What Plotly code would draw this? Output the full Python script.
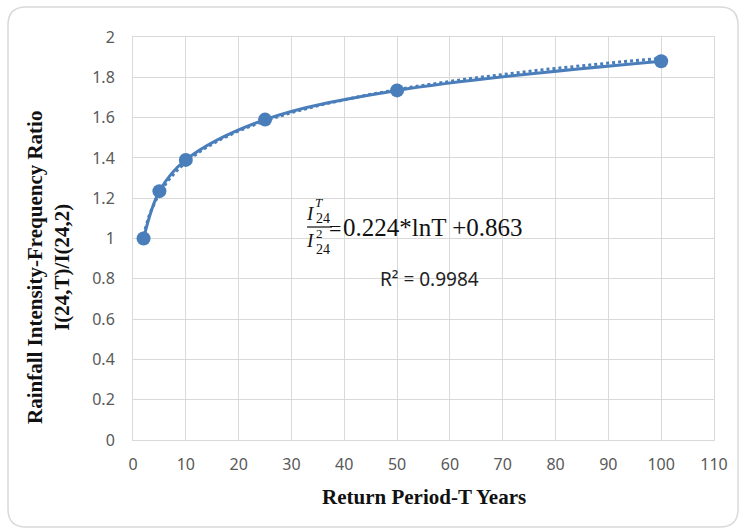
import numpy as np
import plotly.graph_objects as go

# Data
return_period = [2, 5, 10, 25, 50, 100]
ratio = [1.0, 1.235, 1.39, 1.59, 1.735, 1.88]

# Logarithmic trendline coefficients shown on the chart
TREND_A = 0.224
TREND_B = 0.863
R2_TEXT = "R² = 0.9984"

x_ticks = list(range(0, 111, 10))
y_ticks = [0, 0.2, 0.4, 0.6, 0.8, 1, 1.2, 1.4, 1.6, 1.8, 2]
y_tick_text = ["0", "0.2", "0.4", "0.6", "0.8", "1", "1.2", "1.4", "1.6", "1.8", "2"]

BLUE = "#4a7ebb"
W, H = 741, 531
L, R, T, B = 133, 27, 37, 91
PW, PH = W - L - R, H - T - B


def px(x):
    return (x - L) / PW


def py(y):
    return (H - B - y) / PH


trend_x = np.linspace(min(return_period), max(return_period), 300)
trend_y = TREND_A * np.log(trend_x) + TREND_B

fig = go.Figure()
fig.add_trace(go.Scatter(x=trend_x, y=trend_y, mode="lines",
                         line=dict(color=BLUE, width=3, dash="dot"),
                         hoverinfo="skip", showlegend=False))
fig.add_trace(go.Scatter(x=return_period, y=ratio, mode="lines+markers",
                         line=dict(color=BLUE, width=3, shape="spline", smoothing=1),
                         marker=dict(color=BLUE, size=14),
                         showlegend=False, cliponaxis=False))

# rounded outer border
x0, y0, x1, y1, r = 8, 7, 738, 527, 18
path = (f"M {px(x0+r)},{py(y0)} L {px(x1-r)},{py(y0)} "
        f"Q {px(x1)},{py(y0)} {px(x1)},{py(y0+r)} L {px(x1)},{py(y1-r)} "
        f"Q {px(x1)},{py(y1)} {px(x1-r)},{py(y1)} L {px(x0+r)},{py(y1)} "
        f"Q {px(x0)},{py(y1)} {px(x0)},{py(y1-r)} L {px(x0)},{py(y0+r)} "
        f"Q {px(x0)},{py(y0)} {px(x0+r)},{py(y0)} Z")
shapes = [dict(type="path", path=path, xref="paper", yref="paper",
               line=dict(color="#d9d9d9", width=1.5), layer="below")]
# fraction bar
shapes.append(dict(type="line", xref="paper", yref="paper",
                   x0=px(307), x1=px(332), y0=py(227), y1=py(227),
                   line=dict(color="#222", width=1.3)))

serif = "Liberation Serif"
ann = []


def add(text, x, y, size, family=serif, color="#111", xanchor="center", **kw):
    ann.append(dict(text=text, x=px(x), y=py(y), xref="paper", yref="paper",
                    showarrow=False, xanchor=xanchor, yanchor="middle",
                    font=dict(family=family, size=size, color=color), **kw))


# fraction I_24^T / I_24^2
add("<i>I</i>", 310, 213, 19)
add("<i>T</i>", 319, 202, 13)
add("24", 323, 218, 14)
add("<i>I</i>", 310, 240, 19)
add("2", 319, 233, 13)
add("24", 323, 249, 14)
add("=", 335, 228, 22)
add("0.224*lnT +0.863", 341, 227, 25, xanchor="left")
add(R2_TEXT, 429, 279, 19, family="Noto Sans", color="#222")
# axis titles
add("<b>Return Period-T Years</b>", 424, 497, 21)
add("<b>Rainfall Intensity-Frequency Ratio</b><br><b>I(24,T)/I(24,2)</b>",
    48, 268, 21, textangle=-90)

fig.update_layout(
    width=W, height=H,
    margin=dict(l=L, r=R, t=T, b=B),
    paper_bgcolor="white", plot_bgcolor="white",
    shapes=shapes, annotations=ann,
    xaxis=dict(range=[0, 110], tickvals=x_ticks, showgrid=True,
               gridcolor="#d9d9d9", gridwidth=1, zeroline=False,
               showline=True, mirror=True, linecolor="#d9d9d9",
               ticks="", ticklabelstandoff=10,
               tickfont=dict(family="Noto Sans", size=16, color="#595959")),
    yaxis=dict(range=[0, 2], tickvals=y_ticks, ticktext=y_tick_text,
               showgrid=True, gridcolor="#d9d9d9", gridwidth=1, zeroline=False,
               showline=True, mirror=True, linecolor="#d9d9d9",
               ticks="", ticklabelstandoff=14,
               tickfont=dict(family="Noto Sans", size=16, color="#595959")),
)

fig.write_html("out.html")
